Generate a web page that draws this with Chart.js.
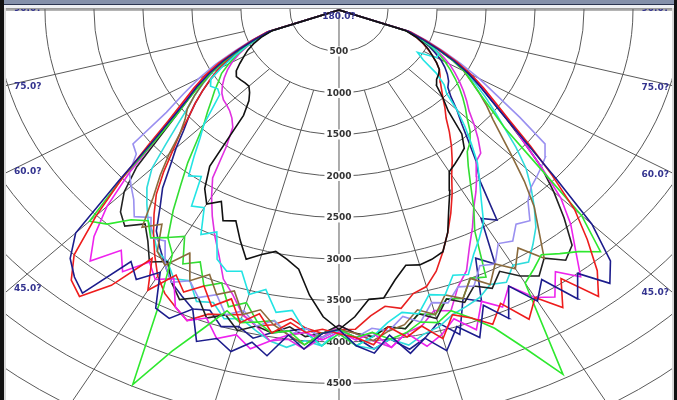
<!DOCTYPE html>
<html><head><meta charset="utf-8">
<script src="https://cdn.jsdelivr.net/npm/chart.js@4.4.1/dist/chart.umd.min.js"></script>
<style>html,body{margin:0;padding:0;background:#fff;overflow:hidden}canvas{display:block}</style>
</head><body>
<canvas id="c" width="677" height="400"></canvas>
<script>
// Polar angles (degrees from nadir, negative = left half)
const ANGLES = [-70,-67.5,-65,-62.5,-60,-57.5,-55,-52.5,-50,-47.5,-45,-42.5,-40,-37.5,-35,-32.5,-30,-27.5,-25,-22.5,-20,-17.5,-15,-12.5,-10,-7.5,-5,-2.5,0,
  2.5,5,7.5,10,12.5,15,17.5,20,22.5,25,27.5,30,32.5,35,37.5,40,42.5,45,47.5,50,52.5,55,57.5,60,62.5,65,67.5,70];

// Luminous intensity per angle (cd) for each curve
const NAVY_A = [760,930,1120,1330,1530,1720,1900,2150,2500,3050,3800,4060,4200,4300,3700,3850,3650,4050,4100,3900,4250,4150,4260,4100,4230,3950,4100,3900,3850,
  4050,4150,3950,4200,4050,4250,4000,4200,3850,4100,3750,4050,3850,4250,4000,4300,4100,3650,3000,2500,2150,1900,1700,1520,1320,1110,920,750];
const RED_A = [780,960,1150,1380,1580,1760,1950,2200,2550,3000,3500,4000,4250,4350,4050,3550,3900,3600,3750,3600,3800,3650,3900,3750,3950,3800,3900,3850,3900,
  3950,4050,3850,4000,3900,4100,3850,3950,4100,3900,4200,4000,4250,3950,4350,4100,3750,3400,2950,2550,2200,1950,1750,1560,1360,1150,950,770];
const MAGENTA_A = [770,950,1140,1350,1560,1750,1930,2180,2450,2900,3350,3700,3950,3650,3850,3600,3750,3650,3950,4050,3950,4150,4050,4180,4050,3950,3900,3980,3880,
  3980,3900,4100,3950,4150,4050,3900,4100,3800,3950,3750,4000,4100,3850,4050,3750,3500,3200,2800,2450,2180,1930,1740,1550,1340,1130,940,760];
const LIME_A = [740,920,1100,1300,1500,1680,1880,2100,2450,3000,3600,3500,3300,3200,3350,3250,3400,3950,4980,4450,4100,3800,3900,3850,3950,3900,4050,3900,3850,
  3950,3900,4000,3950,3850,3900,3800,3950,4150,4500,4950,3800,3700,3600,3700,3800,3950,3500,2700,2200,1950,1750,1600,1480,1300,1100,910,730];
const LAVENDER_A = [790,980,1180,1420,1650,1880,2150,2650,2700,2900,3000,3100,3250,3150,3350,3300,3550,3700,3600,3750,3650,3850,3750,3900,3800,3950,3850,3950,3850,
  3950,3850,3900,3750,3850,3650,3700,3550,3600,3400,3450,3250,3300,3150,3200,3000,2900,2850,2800,2750,2650,2250,1900,1650,1400,1170,970,780];
const BLACK_B = [750,930,1120,1320,1520,1700,1880,2100,2400,2800,3100,3300,3400,3250,3400,3600,3500,3700,3850,3750,3950,3850,4000,3900,3950,3850,3950,3900,3800,
  3900,3950,3850,3900,3750,3850,3650,3750,3600,3700,3550,3700,3800,3650,3800,3700,3400,3100,2800,2450,2150,1900,1710,1520,1320,1110,920,740];
const BROWN_A = [760,950,1130,1330,1500,1650,1800,1950,2050,2200,2450,2700,2950,3300,3150,3450,3550,3300,3600,3450,3650,3550,3800,3700,3850,3950,4050,3900,3850,
  3900,4000,3900,3850,3700,3800,3600,3700,3500,3650,3450,3600,3400,3650,3350,3100,2800,2500,2250,2050,1900,1750,1600,1470,1300,1120,940,750];
const CYAN_A = [740,900,1050,1200,1380,1550,1600,1560,1590,1750,1950,2100,2300,2520,2450,2800,2750,3050,2950,3250,3350,3300,3550,3450,3700,3650,3900,4050,3850,
  4050,3950,3800,3700,3750,3550,3600,3400,3450,3250,3100,2950,2700,2500,2320,2100,1900,1700,1490,1400,1250,1050,950,1150,1150,1050,900,740];
const BLACK_A = [720,860,960,1050,1120,1200,1280,1320,1310,1300,1300,1350,1430,1600,2300,2550,2700,2600,2800,2750,2950,3150,3050,2980,3050,3150,3450,3700,3850,
  3700,3500,3500,3300,3150,3180,3150,3100,2900,2650,2450,2250,2200,2150,2100,1950,1650,1500,1350,1300,1280,1250,1180,1100,1030,950,850,720];
const GREEN_B = [740,890,1040,1180,1300,1420,1500,1600,1700,1820,1950,2150,2400,2650,2950,3250,3150,3450,3350,3600,3500,3750,3650,3850,3800,3950,3900,4050,3900,
  4050,3950,3850,3900,3750,3800,3650,3700,3500,3550,3000,2750,2500,2300,2150,2080,1980,1850,1750,1650,1550,1450,1350,1250,1150,1030,890,740];
const MAGENTA_B = [740,890,1030,1150,1260,1350,1430,1500,1560,1600,1620,1650,1700,1780,2000,2400,2600,2800,3000,3200,3450,3600,3800,3900,4050,4000,4100,3950,3800,
  3900,4000,4100,3950,3900,3750,3800,3550,3400,3150,2950,2750,2600,2450,2300,2250,2100,1950,1800,1700,1600,1500,1400,1300,1180,1050,900,750];
const RED_B = [750,930,1100,1270,1420,1560,1700,1850,2000,2200,2400,2650,2900,3100,3300,3500,3700,3850,3950,4050,3900,3850,3800,3900,3850,3750,3850,3900,3850,
  3850,3700,3600,3650,3500,3450,3300,3100,2900,2700,2500,2300,2150,2000,1850,1700,1600,1500,1420,1350,1300,1250,1180,1100,1020,940,850,730];
const CYAN_B = [760,940,1120,1300,1480,1640,1800,1950,2150,2400,2700,2900,3050,3200,3300,3450,3500,3650,3600,3800,3750,3900,3850,3950,4050,4100,4000,4050,3900,
  4050,4100,4000,4100,4000,3950,3850,3800,3750,3650,3700,3550,3600,3450,3300,3100,2900,2700,2450,2200,2000,1820,1650,1480,1300,1110,930,750];
const NAVY_B = [740,910,1080,1250,1400,1550,1700,1850,2000,2150,2350,2550,2800,3000,3250,3400,3550,3700,3800,3900,3850,4000,3950,4050,3950,3900,3850,3950,3850,
  3950,4100,4000,4150,4050,3900,4100,3700,3800,3300,3450,2900,3000,2500,2300,2050,1850,1700,1550,1450,1410,1350,1280,1200,1100,1000,880,740];

const SERIES = [
  {values: BLACK_A, color: '#111111'},
  {values: NAVY_A, color: '#1c1c8c'},
  {values: RED_A, color: '#ee1c1c'},
  {values: LIME_A, color: '#2ee82e'},
  {values: MAGENTA_A, color: '#ee22ee'},
  {values: CYAN_A, color: '#22e4e4'},
  {values: BROWN_A, color: '#8a6a3c'},
  {values: LAVENDER_A, color: '#9a90f0'},
  {values: BLACK_B, color: '#222222'},
  {values: GREEN_B, color: '#33dd33'},
  {values: MAGENTA_B, color: '#e030e0'},
  {values: RED_B, color: '#e82020'},
  {values: CYAN_B, color: '#30dcdc'},
  {values: NAVY_B, color: '#20208a'}
];

// Grid / tick definitions
const RING_VALUES = [500,1000,1500,2000,2500,3000,3500,4000,4500,5000,5500,6000,6500];
const RING_LABELS = [500,1000,1500,2000,2500,3000,3500,4000,4500,5000];
const RAY_ANGLES = [-90,-75,-60,-45,-30,-15,15,30,45,60,75,90];
const SIDE_LABEL_ANGLES = [90,75,60,45];
const TOP_LABEL = '180.0?';

const rad = d => d * Math.PI / 180;
function toXY(theta, I) { return {x: I * Math.sin(rad(theta)), y: -I * Math.cos(rad(theta))}; }

const datasets = SERIES.map(s => {
  const pts = [{x: 0, y: 0}];
  ANGLES.forEach((a, i) => pts.push(toXY(a, s.values[i])));
  pts.push({x: 0, y: 0});
  return {data: pts, borderColor: s.color, backgroundColor: s.color, borderWidth: 1.6,
          showLine: true, pointRadius: 0, fill: false, tension: 0};
});

const gridPlugin = {
  id: 'polarGrid',
  beforeDatasetsDraw(chart) {
    const ctx = chart.ctx, xs = chart.scales.x, ys = chart.scales.y;
    const cx = xs.getPixelForValue(0), cy = ys.getPixelForValue(0);
    ctx.save();
    ctx.strokeStyle = '#5a5a5a';
    ctx.lineWidth = 1;
    RING_VALUES.forEach(r => {
      const rx = xs.getPixelForValue(r) - cx, ry = cy - ys.getPixelForValue(r);
      ctx.beginPath(); ctx.ellipse(cx, cy, Math.abs(rx), Math.abs(ry), 0, 0, Math.PI * 2); ctx.stroke();
    });
    RAY_ANGLES.forEach(a => {
      const p1 = toXY(a, 1000), p2 = toXY(a, 9000);
      ctx.beginPath();
      ctx.moveTo(xs.getPixelForValue(p1.x), ys.getPixelForValue(p1.y));
      ctx.lineTo(xs.getPixelForValue(p2.x), ys.getPixelForValue(p2.y));
      ctx.stroke();
    });
    ctx.beginPath(); ctx.moveTo(cx, cy); ctx.lineTo(cx, ys.getPixelForValue(-9000)); ctx.stroke();
    ctx.font = 'bold 9px "DejaVu Sans", sans-serif';
    ctx.textAlign = 'center'; ctx.textBaseline = 'middle';
    RING_LABELS.forEach(r => {
      const y = ys.getPixelForValue(-r), t = String(r), w = ctx.measureText(t).width;
      ctx.fillStyle = '#ffffff'; ctx.fillRect(cx - w / 2 - 2, y - 5, w + 4, 10);
      ctx.fillStyle = '#333333'; ctx.fillText(t, cx, y + 0.5);
    });
    ctx.restore();
  },
  afterDatasetsDraw(chart) {
    const ctx = chart.ctx, xs = chart.scales.x, ys = chart.scales.y;
    const cx = xs.getPixelForValue(0), cy = ys.getPixelForValue(0);
    ctx.save();
    ctx.font = 'bold 9px "DejaVu Sans", sans-serif';
    ctx.fillStyle = '#33338f';
    ctx.textBaseline = 'middle';
    ctx.textAlign = 'center';
    ctx.fillText(TOP_LABEL, cx, cy + 7);
    SIDE_LABEL_ANGLES.forEach(a => {
      const label = a.toFixed(1) + '?';
      [-1, 1].forEach(side => {
        const px = side < 0 ? 14 : 669;
        const xv = xs.getValueForPixel(px);
        const t = Math.abs(xv) / Math.sin(rad(a));
        const yv = -t * Math.cos(rad(a));
        let py = ys.getPixelForValue(yv) + 3;
        if (a === 90) py = cy - 1;
        ctx.textAlign = side < 0 ? 'left' : 'right';
        ctx.fillText(label, px, py);
      });
    });
    ctx.restore();
  },
  afterDraw(chart) {
    const ctx = chart.ctx, W = chart.width, H = chart.height;
    ctx.save();
    ctx.fillStyle = '#8490aa'; ctx.fillRect(0, 0, W, 4);
    ctx.fillStyle = '#2a3450'; ctx.fillRect(0, 4, W, 1);
    ctx.fillStyle = '#eef0f4'; ctx.fillRect(0, 5, W, 3);
    ctx.fillStyle = '#9a9a9a'; ctx.fillRect(0, 8, W, 1);
    ctx.fillStyle = '#111111'; ctx.fillRect(0, 0, 4, H);
    ctx.fillStyle = '#d8d8d8'; ctx.fillRect(4, 8, 2, H);
    ctx.fillStyle = '#d8d8d8'; ctx.fillRect(W - 5, 8, 2, H);
    ctx.fillStyle = '#111111'; ctx.fillRect(W - 3, 0, 3, H);
    ctx.restore();
  }
};

new Chart(document.getElementById('c'), {
  type: 'scatter',
  data: {datasets},
  options: {
    responsive: false, animation: false, devicePixelRatio: 1,
    layout: {padding: 0},
    plugins: {legend: {display: false}, tooltip: {enabled: false}},
    scales: {
      x: {type: 'linear', min: -3459, max: 3449, display: false},
      y: {type: 'linear', min: -4699, max: 120, display: false}
    }
  },
  plugins: [gridPlugin]
});
</script>
</body></html>
